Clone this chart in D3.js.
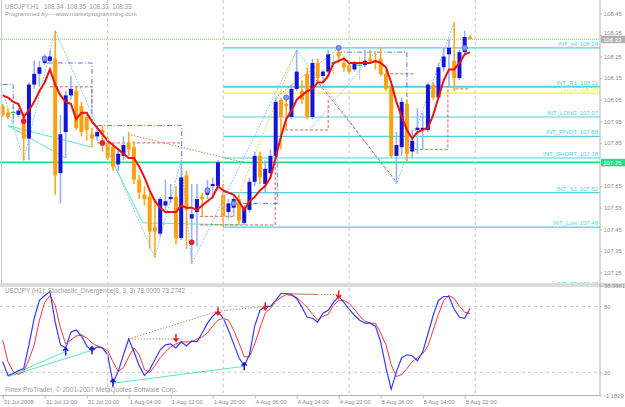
<!DOCTYPE html>
<html>
<head>
<meta charset="utf-8">
<script src="https://cdn.jsdelivr.net/npm/d3@7"></script>
<style>
  body { margin: 0; background: #fff; }
  text { font-family: "Liberation Sans", Arial, sans-serif; }
</style>
</head>
<body>
<svg id="chart" width="625" height="407"></svg>
<script>
// USDJPY H1 bars, 31 Jul 04:00 .. 5 Aug 23:00
const opens = [108.02,107.99,107.99,107.98,107.97,107.87,108.12,108.17,108.22,108.23,
108.24,107.71,107.90,108.07,108.09,108.02,107.97,107.89,107.88,107.91,
107.85,107.83,107.75,107.79,107.85,107.83,107.68,107.61,107.60,107.46,
107.43,107.56,107.59,107.60,107.41,107.70,107.50,107.53,107.60,107.61,
107.65,107.65,107.61,107.53,107.55,107.59,107.48,107.54,107.67,107.79,
107.66,107.71,107.79,108.05,108.03,107.97,108.10,108.09,108.17,107.97,
108.22,108.16,108.18,108.22,108.27,108.22,108.21,108.19,108.21,108.21,
108.24,108.23,108.24,108.17,108.11,107.79,107.83,108.03,107.81,107.91,
107.91,107.91,108.12,108.06,108.20,108.26,108.23,108.15,108.27,108.34];
const highs = [108.03,108.01,108.01,108.01,107.99,108.13,108.23,108.23,108.26,108.28,
108.37,107.98,108.09,108.16,108.11,108.04,107.98,107.92,107.93,107.93,
107.88,107.85,107.82,107.88,107.90,107.86,107.70,107.65,107.62,107.59,
107.60,107.68,107.66,107.65,107.77,107.72,107.66,107.66,107.62,107.68,
107.69,107.77,107.66,107.59,107.61,107.61,107.56,107.69,107.81,107.81,
107.77,107.82,108.06,108.06,108.06,108.12,108.28,108.14,108.20,108.24,
108.24,108.19,108.28,108.26,108.29,108.25,108.23,108.23,108.25,108.28,
108.28,108.27,108.29,108.19,108.12,107.90,108.06,108.05,107.91,108.01,
107.99,108.13,108.13,108.22,108.29,108.33,108.41,108.28,108.37,108.35];
const lows = [107.97,107.96,107.94,107.97,107.77,107.77,108.10,108.11,108.21,108.22,
107.61,107.57,107.78,108.05,107.91,107.88,107.86,107.83,107.86,107.81,
107.77,107.72,107.72,107.77,107.79,107.66,107.59,107.56,107.36,107.32,
107.42,107.54,107.57,107.38,107.40,107.36,107.29,107.37,107.51,107.59,
107.59,107.63,107.46,107.50,107.51,107.47,107.47,107.53,107.65,107.66,
107.62,107.69,107.78,107.82,107.91,107.96,108.09,108.03,107.96,107.96,
108.13,108.13,108.16,108.17,108.22,108.18,108.17,108.18,108.14,108.20,
108.22,108.19,108.16,108.09,107.78,107.66,107.79,107.76,107.78,107.80,
107.82,107.90,108.05,108.06,108.18,108.11,108.09,108.14,108.26,108.33];
const closes = [107.98,107.97,107.99,108.00,107.87,108.12,108.17,108.20,108.24,108.25,
107.70,107.89,108.07,108.10,107.92,107.90,107.91,107.87,107.90,107.89,
107.78,107.74,107.80,107.84,107.82,107.68,107.62,107.59,107.44,107.44,
107.59,107.58,107.60,107.41,107.69,107.54,107.52,107.59,107.59,107.64,
107.66,107.76,107.51,107.57,107.59,107.49,107.55,107.67,107.79,107.69,
107.73,107.79,108.04,107.97,108.02,108.10,108.18,108.05,107.97,108.22,
108.15,108.18,108.26,108.22,108.25,108.20,108.18,108.22,108.21,108.23,
108.23,108.22,108.17,108.10,107.79,107.84,108.04,107.80,107.86,107.92,
107.92,108.12,108.06,108.20,108.25,108.29,108.15,108.27,108.34,108.33];

// red moving average
const maValues = [108.07,108.06,108.04,108.03,107.97,108.00,108.04,108.09,108.13,108.19,
108.12,108.07,108.04,108.03,107.96,107.99,107.99,107.95,107.92,107.89,
107.86,107.84,107.82,107.80,107.78,107.78,107.74,107.69,107.63,107.58,
107.55,107.53,107.53,107.53,107.56,107.55,107.55,107.54,107.56,107.58,
107.60,107.65,107.63,107.62,107.61,107.58,107.54,107.58,107.60,107.63,
107.65,107.69,107.78,107.88,107.96,108.00,108.05,108.07,108.09,108.10,
108.13,108.13,108.16,108.22,108.23,108.24,108.22,108.22,108.22,108.22,
108.22,108.23,108.22,108.20,108.13,108.04,107.97,107.91,107.87,107.90,
107.91,107.92,107.98,108.06,108.14,108.19,108.19,108.22,108.26,108.27];

// Stochastic_Divergence(8,3,3)
const stochK = [29.6,17.0,18.8,21.5,23.3,44.9,69.2,85.4,89.9,93.5,
65.6,44.9,42.2,56.6,58.4,53.0,44.0,39.5,43.1,42.2,
35.9,10.4,20.6,35.9,50.3,38.6,26.0,17.0,22.4,31.4,
40.4,44.9,45.8,42.2,47.6,44.0,48.5,47.6,55.7,64.7,
71.0,75.5,69.2,58.4,45.8,33.2,26.0,35.9,62.0,76.4,
80.0,80.0,85.4,91.7,91.7,90.8,87.2,79.1,70.1,69.2,
65.6,73.7,76.4,83.6,89.0,83.6,77.3,71.9,67.4,64.7,
64.7,62.0,47.6,24.2,4.5,20.6,33.2,35.9,35.0,30.5,
38.6,54.8,71.9,85.4,89.0,89.0,77.3,70.1,69.2,78.0];
const stochD = [49.4,29.6,20.6,17.9,20.6,31.4,44.9,67.4,83.6,89.9,
80.9,60.2,45.8,49.4,53.0,53.9,51.2,46.7,44.0,42.2,
39.5,29.6,20.6,24.2,34.1,42.2,35.9,22.4,19.7,26.0,
33.2,38.6,43.1,45.8,47.6,47.6,47.6,50.3,52.1,55.7,
62.0,67.4,69.2,67.4,58.4,46.7,34.1,34.1,45.8,60.2,
73.7,78.2,84.5,88.1,90.8,89.9,88.1,83.6,79.1,72.8,
67.4,71.0,72.8,80.9,85.4,85.4,82.7,77.3,71.0,66.5,
64.7,64.7,55.7,44.9,26.9,16.1,17.9,23.3,29.6,33.2,
36.8,44.0,58.4,72.8,85.4,89.9,87.2,80.0,74.6,73.2742];

const timeLabels = ["31 Jul 2008","31 Jul 12:00","31 Jul 20:00","1 Aug 04:00","1 Aug 12:00","1 Aug 20:00",
  "4 Aug 06:00","4 Aug 14:00","4 Aug 22:00","5 Aug 06:00","5 Aug 14:00","5 Aug 22:00"];
const timeLabelBars = [0, 8, 16, 24, 32, 40, 48, 56, 64, 72, 80, 88];
const dayStartBars = [20, 42, 66, 90];
// 107.75 sits under the 107.76 line label, so it is not drawn
const priceTicks = [108.45,108.35,108.25,108.15,108.05,107.95,107.85,107.65,107.55,107.45,107.35,107.25];

// intraday levels drawn from Monday 00:00
const levelNames = ["INT_HI","INT_R1","TGT 1","INT_LONG","INT_PIVOT","INT_SHORT","INT_S1","INT_Low","INT_S2"];
const levelPrices = [108.29,108.11,108.08,107.97,107.88,107.78,107.62,107.46,107.18];
const levelStartBar = 42;
const bidPrice = 108.33;
const hLinePrice = 107.76;

// objects on the chart, as [bar, price]
const zigzagLines = [
  [[4,107.77],[10,108.37],[29,107.32],[34,107.77],[36,107.29],[56,108.28],[75,107.66],[86,108.41]],
  [[0,108.09],[4,107.77]],
  [[58.5,107.91],[72,108.30]]
];
const yellowLines = [[[43,107.49],[56,108.28]]];
const aquaLines = [
  [[1,107.93],[17,107.83]],
  [[1,107.93],[12,107.78]],
  [[21.4,107.74],[26.7,107.48],[45,107.47]]
];
const brownLines = [
  [[23.9,107.89],[45.8,107.76]],
  [[52,108.06],[63.6,108.28]]
];
const redDashLines = [
  [[9,108.11],[17,108.11],[17,108.00]],
  [[18,107.85],[34,107.85]],
  [[37.6,107.51],[44.3,107.51]],
  [[37.6,107.47],[51.9,107.47],[51.9,107.80]],
  [[53.8,107.91],[62,107.91],[62,108.05]],
  [[59.1,108.16],[75,107.67]],
  [[71.9,108.17],[78.2,108.17]],
  [[78.5,107.82],[84.8,107.82],[84.8,108.11]],
  [[86.2,108.10],[88.7,108.10]]
];
const blueDashLines = [
  [[0,108.12],[2,108.12],[2,107.94]],
  [[8.6,108.22],[17,108.22],[17,107.94]],
  [[18,107.93],[34.1,107.93],[34.1,107.43]],
  [[45.8,107.57],[52.3,107.57],[52.3,107.80]],
  [[63.7,108.27],[77,108.27],[77,107.82]]
];
const blueDots = [[8,108.24],[39,107.63],[44,107.57],[54,108.06],[64,108.29],[88,108.29]];
const redDots = [[4,107.95],[19,107.85],[36,107.39]];

// divergence objects in the stochastic window, as [bar, value]
const stochAquaLines = [[[1,16],[12,39]], [[1,16],[17,40]], [[21,10],[46,25.4]]];
const stochBrownDotted = [[[24,50.3],[34,50.3]], [[24,50.3],[41,75.5]], [[41,75.5],[50,80]], [[60,90.8],[64,90.8]]];
const stochBrownSolid = [[[54,91.5],[60,90.8]]];
const sellArrows = [[33,51.5],[41,75.5],[50,80],[64,90.8]];
const buyArrows = [[12,39],[17,40],[21,10.4],[46,25.4]];

const svg = d3.select("#chart");
const plotRight = 600, mainBottom = 283, subTop = 287, subBottom = 395.5;

const x = d3.scaleLinear().domain([0, 114]).range([2.7, 2.7 + 114 * 5.25]);
const y = d3.scaleLinear().domain([107.25, 108.45]).range([272.5, 13.3]);
const ys = d3.scaleLinear().domain([-1.1829, 98.9981]).range([395.5, 285.5]);

const defs = svg.append("defs");
defs.append("clipPath").attr("id", "clipMain")
  .append("rect").attr("x", 0).attr("y", 0).attr("width", plotRight).attr("height", mainBottom);
defs.append("clipPath").attr("id", "clipSub")
  .append("rect").attr("x", 0).attr("y", subTop).attr("width", plotRight).attr("height", subBottom - subTop);

const main = svg.append("g").attr("clip-path", "url(#clipMain)");
const sub = svg.append("g").attr("clip-path", "url(#clipSub)");

const lineP = d3.line().x(d => x(d[0])).y(d => y(d[1]));
const lineS = d3.line().x(d => x(d[0])).y(d => ys(d[1]));

// grid
dayStartBars.forEach(b => {
  svg.append("line")
    .attr("x1", x(b)).attr("x2", x(b)).attr("y1", 0).attr("y2", subBottom)
    .attr("stroke", "#c8c8c8").attr("stroke-dasharray", "3,3");
});
[80, 20].forEach(v => {
  sub.append("line")
    .attr("x1", 0).attr("x2", plotRight).attr("y1", ys(v)).attr("y2", ys(v))
    .attr("stroke", "#c8c8c8").attr("stroke-dasharray", "3,3");
});

// horizontal levels
main.append("line")
  .attr("x1", 0).attr("x2", plotRight).attr("y1", y(bidPrice)).attr("y2", y(bidPrice))
  .attr("stroke", "#74dc50").attr("stroke-dasharray", "1,1");

levelNames.forEach((name, k) => {
  const col = name.startsWith("TGT") ? "#f4f43a" : "#4fd2dc";
  main.append("line")
    .attr("x1", x(levelStartBar)).attr("x2", plotRight)
    .attr("y1", y(levelPrices[k])).attr("y2", y(levelPrices[k]))
    .attr("stroke", col).attr("stroke-width", name === "INT_R1" ? 2 : 1.2);
  main.append("text")
    .attr("x", 577).attr("y", y(levelPrices[k]) - 2)
    .attr("text-anchor", "end").attr("font-size", "6px").attr("fill", col)
    .text(name);
  main.append("text")
    .attr("x", 598).attr("y", y(levelPrices[k]) - 2)
    .attr("text-anchor", "end").attr("font-size", "6px").attr("fill", col)
    .text(levelPrices[k].toFixed(2));
});

main.append("line")
  .attr("x1", 0).attr("x2", plotRight).attr("y1", y(hLinePrice)).attr("y2", y(hLinePrice))
  .attr("stroke", "#1ee08a").attr("stroke-width", 1.6);

// chart objects
const drawLines = (g, gen, data, col, dash, w) => {
  g.selectAll(null).data(data).enter().append("path")
    .attr("d", gen).attr("fill", "none")
    .attr("stroke", col).attr("stroke-width", w)
    .attr("stroke-dasharray", dash);
};
drawLines(main, lineP, zigzagLines, "#6cc8ee", "1.5,1.5", 1);
drawLines(main, lineP, yellowLines, "#f0d030", "1.5,1.5", 1);
drawLines(main, lineP, aquaLines, "#5ee8bc", null, 1);
drawLines(main, lineP, brownLines, "#b88a6a", "1.5,1.5", 1);
drawLines(main, lineP, redDashLines, "#e85a5a", "3,2", 1);
drawLines(main, lineP, blueDashLines, "#5a78e0", "5,2,1,2", 1);

// candles
const candles = d3.range(opens.length).map(i => ({ i, o: opens[i], h: highs[i], l: lows[i], c: closes[i] }));

main.selectAll(".wick").data(candles).enter().append("line")
  .attr("class", "wick")
  .attr("x1", d => x(d.i)).attr("x2", d => x(d.i))
  .attr("y1", d => y(d.h)).attr("y2", d => y(d.l))
  .attr("stroke", d => d.c > d.o ? "#9cb0f4" : d.c < d.o ? "#ffaa22" : "#2ccc3c")
  .attr("stroke-width", d => d.c === d.o ? 1 : 1.6)
  .attr("stroke-dasharray", d => d.c === d.o ? "1,1" : null);

main.selectAll(".body").data(candles.filter(d => d.c !== d.o)).enter().append("rect")
  .attr("class", "body")
  .attr("x", d => x(d.i) - 2)
  .attr("width", 4)
  .attr("y", d => y(Math.max(d.o, d.c)))
  .attr("height", d => Math.max(1.5, Math.abs(y(d.o) - y(d.c))))
  .attr("fill", d => d.c > d.o ? "#1414d8" : "#ffa010");

main.selectAll(".doji").data(candles.filter(d => d.c === d.o)).enter().append("line")
  .attr("class", "doji")
  .attr("x1", d => x(d.i) - 2.5).attr("x2", d => x(d.i) + 2.5)
  .attr("y1", d => y(d.o)).attr("y2", d => y(d.o))
  .attr("stroke", "#2ccc3c").attr("stroke-width", 1.2);

// moving average
main.append("path")
  .datum(maValues)
  .attr("d", d3.line().x((d, i) => x(i)).y(d => y(d)))
  .attr("fill", "none").attr("stroke", "#f01010").attr("stroke-width", 2);

main.selectAll(".bdot").data(blueDots).enter().append("circle")
  .attr("cx", d => x(d[0])).attr("cy", d => y(d[1])).attr("r", 2.6)
  .attr("fill", "#7f98f0").attr("stroke", "#4a64d8").attr("stroke-width", 0.8);
main.selectAll(".rdot").data(redDots).enter().append("circle")
  .attr("cx", d => x(d[0])).attr("cy", d => y(d[1])).attr("r", 2.8)
  .attr("fill", "#e0203c");

// titles
main.append("text").attr("x", 5).attr("y", 8.5).attr("font-size", "6.3px").attr("fill", "#9a9a9a")
  .attr("xml:space", "preserve")
  .text(`USDJPY,H1   ${opens[89].toFixed(2)}  ${highs[89].toFixed(2)}  ${lows[89].toFixed(2)}  ${closes[89].toFixed(2)}`);
main.append("text").attr("x", 5).attr("y", 16).attr("font-size", "6px").attr("fill", "#9a9a9a")
  .text("Programmed by----www.marketprogramming.com");

// window borders and separator
svg.append("rect").attr("x", 0).attr("y", mainBottom).attr("width", 625).attr("height", subTop - mainBottom)
  .attr("fill", "#dcdcdc");
svg.append("line").attr("x1", 1.5).attr("x2", 1.5).attr("y1", 0).attr("y2", mainBottom)
  .attr("stroke", "#c8c8c8");
svg.append("line").attr("x1", plotRight).attr("x2", plotRight).attr("y1", 0).attr("y2", subBottom)
  .attr("stroke", "#b4b4b4");
svg.append("line").attr("x1", 0).attr("x2", plotRight).attr("y1", subBottom).attr("y2", subBottom)
  .attr("stroke", "#b4b4b4");

// price axis
const yAxis = svg.append("g")
  .attr("transform", `translate(${plotRight},0)`)
  .call(d3.axisRight(y).tickValues(priceTicks).tickSize(2).tickPadding(2).tickFormat(d3.format(".2f")));
yAxis.select(".domain").remove();
yAxis.selectAll("line").attr("stroke", "#b4b4b4");
yAxis.selectAll("text").attr("font-size", "5.8px").attr("fill", "#8c8c8c").attr("font-family", null)
  .attr("dy", d => d === 108.35 ? "-0.05em" : "0.32em");

const priceBox = (price, fill) => {
  const g = svg.append("g").attr("transform", `translate(${plotRight},${y(price)})`);
  g.append("rect").attr("x", 1).attr("y", -3.5).attr("width", 24).attr("height", 7.5).attr("fill", fill);
  g.append("text").attr("x", 3).attr("y", 2.4).attr("font-size", "6px").attr("fill", "#fff")
    .text(price.toFixed(2));
};
priceBox(bidPrice, "#b0b0b0");
priceBox(hLinePrice, "#1ee08a");

// stochastic window
drawLines(sub, lineS, stochAquaLines, "#5ee8bc", null, 1);
drawLines(sub, lineS, stochBrownDotted, "#b88a6a", "1.5,1.5", 1);
drawLines(sub, lineS, stochBrownSolid, "#b07a5a", null, 1);

sub.append("path").datum(stochD)
  .attr("d", d3.line().x((d, i) => x(i)).y(d => ys(d)))
  .attr("fill", "none").attr("stroke", "#f03a3a").attr("stroke-width", 1);
sub.append("path").datum(stochK)
  .attr("d", d3.line().x((d, i) => x(i)).y(d => ys(d)))
  .attr("fill", "none").attr("stroke", "#3a3af4").attr("stroke-width", 1.2);

sub.selectAll(".sell").data(sellArrows).enter().append("path")
  .attr("transform", d => `translate(${x(d[0])},${ys(d[1])})`)
  .attr("d", "M0,-4V3M-2.5,0.5L0,3.5L2.5,0.5")
  .attr("fill", "none").attr("stroke", "#f01818").attr("stroke-width", 1.5);
sub.selectAll(".buy").data(buyArrows).enter().append("path")
  .attr("transform", d => `translate(${x(d[0])},${ys(d[1])})`)
  .attr("d", "M0,4V-3M-2.5,-0.5L0,-3.5L2.5,-0.5")
  .attr("fill", "none").attr("stroke", "#1818c8").attr("stroke-width", 1.5);

sub.append("text").attr("x", 5).attr("y", 293).attr("font-size", "6.4px").attr("fill", "#9a9a9a")
  .text(`USDJPY (H1): Stochastic_Divergence(8, 3, 3) ${stochK[89].toFixed(4)} ${stochD[89].toFixed(4)}`);
sub.append("text").attr("x", 5).attr("y", 392).attr("font-size", "6.6px").attr("fill", "#9a9a9a")
  .text("Finex ProTrader, © 2001-2007 MetaQuotes Software Corp.");

const sAxis = svg.append("g")
  .attr("transform", `translate(${plotRight},0)`)
  .call(d3.axisRight(ys).tickValues([98.9981, 80, 20, -1.1829]).tickSize(2).tickPadding(2)
    .tickFormat(d => (d === 80 || d === 20) ? d : d.toFixed(4)));
sAxis.select(".domain").remove();
sAxis.selectAll("line").attr("stroke", "#b4b4b4");
sAxis.selectAll("text").attr("font-size", "5.8px").attr("fill", "#8c8c8c").attr("font-family", null);

// time axis
const xAxis = svg.append("g")
  .attr("transform", `translate(0,${subBottom})`)
  .call(d3.axisBottom(x).tickValues(timeLabelBars).tickSize(3).tickPadding(1)
    .tickFormat((d, k) => timeLabels[k]));
xAxis.select(".domain").remove();
xAxis.selectAll("line").attr("stroke", "#b4b4b4");
xAxis.selectAll("text").attr("text-anchor", "start").attr("dx", "0.5")
  .attr("font-size", "5.8px").attr("fill", "#8c8c8c").attr("font-family", null);
</script>
</body>
</html>
